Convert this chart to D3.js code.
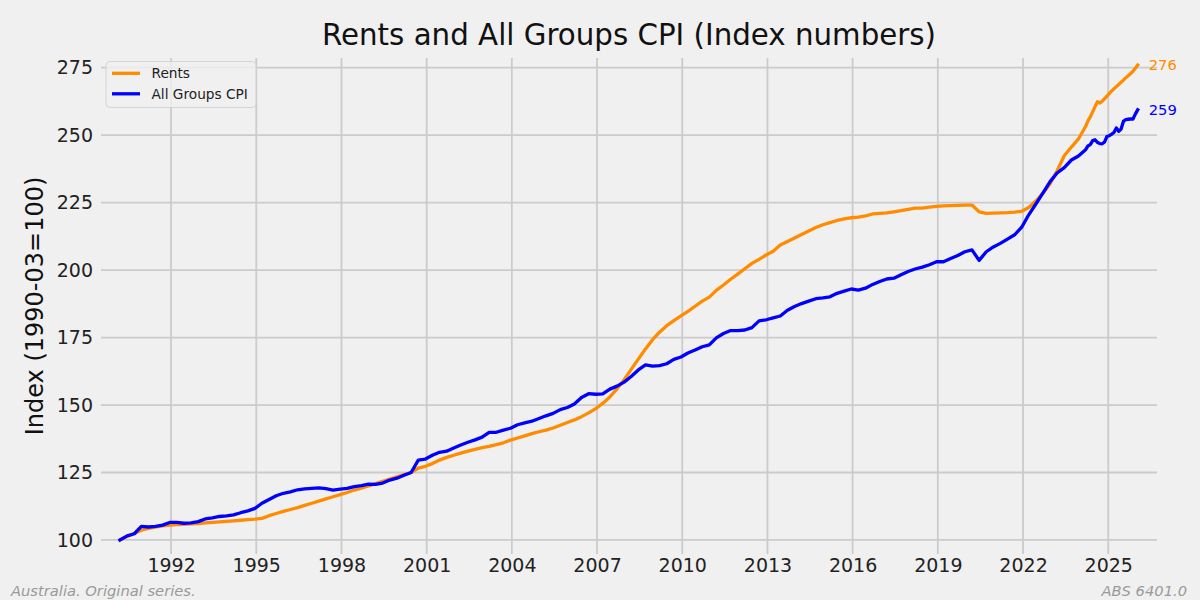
<!DOCTYPE html>
<html>
<head>
<meta charset="utf-8">
<script src="https://cdn.jsdelivr.net/npm/d3@7"></script>
<style>
  html, body { margin: 0; padding: 0; background: #f0f0f0; }
  svg { display: block; }
  text { font-family: "DejaVu Sans", sans-serif; }
</style>
</head>
<body>
<svg id="chart" width="1200" height="600"></svg>
<script>
// ---------------- DATA ----------------
// Quarterly observations: Mar 1990 .. Mar 2024 (137 quarters)
const quarterlyFirst = "1990-03";
const rentsQuarterly = [
  100.0, 101.3, 102.4, 103.6,
  104.3, 104.8, 105.2, 105.5,
  105.7, 105.8, 106.0, 106.1,
  106.3, 106.5, 106.7, 106.9,
  107.1, 107.3, 107.5, 107.7,
  108.0, 109.0, 109.8, 110.6,
  111.3, 112.0, 112.8, 113.6,
  114.4, 115.2, 116.0, 116.8,
  117.6, 118.5, 119.2, 120.0,
  120.9, 121.7, 122.6, 123.4,
  124.2, 125.0, 126.6, 127.3,
  128.3, 129.6, 130.6, 131.4,
  132.2, 132.9, 133.6, 134.2,
  134.7, 135.3, 136.0, 137.0,
  137.8, 138.6, 139.4, 140.1,
  140.7, 141.5, 142.5, 143.5,
  144.5, 145.7, 147.1, 148.7,
  150.6, 153.0, 156.0, 159.4,
  163.2, 167.0, 170.8, 174.2,
  177.0, 179.4, 181.3, 183.0,
  184.7, 186.6, 188.5, 190.0,
  192.5, 194.5, 196.6, 198.5,
  200.5, 202.5, 204.0, 205.6,
  207.0, 209.3, 210.6, 211.9,
  213.2, 214.5, 215.8, 216.8,
  217.6, 218.4, 219.0, 219.4,
  219.6, 220.1, 220.8, 221.0,
  221.2, 221.6, 222.0, 222.5,
  223.0, 223.0, 223.3, 223.6,
  223.8, 223.9, 224.0, 224.1,
  224.1, 221.6, 221.0, 221.1,
  221.2, 221.3, 221.5, 221.8,
  223.2, 225.6, 228.5, 232.0,
  236.8, 242.4, 245.6, 248.6,
  253.2
];
const cpiQuarterly = [
  100.0, 101.5, 102.3, 105.0,
  104.8, 105.0, 105.5, 106.5,
  106.5, 106.2, 106.3, 106.8,
  107.8, 108.2, 108.7, 108.9,
  109.3, 110.1, 110.8, 111.7,
  113.6, 115.0, 116.4, 117.3,
  117.8, 118.6, 118.9, 119.1,
  119.3, 119.0, 118.5, 118.8,
  119.1, 119.8, 120.1, 120.7,
  120.6, 121.1, 122.2, 122.9,
  124.0, 125.0, 129.6, 130.0,
  131.4, 132.5, 132.9, 134.1,
  135.2, 136.2, 137.1, 138.1,
  139.9, 139.9, 140.7, 141.4,
  142.7, 143.4, 144.0, 145.0,
  146.0, 146.9, 148.3, 149.1,
  150.4, 152.8, 154.2, 154.0,
  154.1, 155.9, 157.0, 158.5,
  160.6, 163.0, 164.9, 164.4,
  164.6, 165.3, 166.9, 167.8,
  169.3, 170.4, 171.6, 172.3,
  174.9, 176.5, 177.6, 177.6,
  177.8, 178.7, 181.2, 181.6,
  182.3, 183.0, 185.1, 186.5,
  187.6, 188.5, 189.4, 189.7,
  190.1, 191.4, 192.2, 193.0,
  192.6, 193.3, 194.7, 195.8,
  196.7, 197.0, 198.3, 199.5,
  200.4, 201.1, 202.0, 203.1,
  203.1, 204.3, 205.4, 206.8,
  207.5, 203.6, 206.8, 208.6,
  209.9, 211.5, 213.1, 215.9,
  220.5, 224.5, 228.6, 232.8,
  236.0, 238.0, 240.8, 242.3,
  244.6
];
// Monthly observations: Apr 2024 .. Jan 2026 (22 months)
const monthlyFirst = "2024-04";
const rentsMonthly = [
  255.3, 256.8, 258.7, 260.6, 262.4, 261.9, 262.6, 263.5, 264.5,
  265.5, 266.4, 267.2, 268.0, 268.8, 269.6, 270.4, 271.3, 272.0, 272.8, 273.7, 274.8,
  276.0
];
const cpiMonthly = [
  246.0, 246.5, 248.0, 248.3, 247.3, 246.9, 246.8, 247.5, 249.5,
  249.8, 250.4, 251.0, 252.7, 251.4, 252.3, 255.1, 255.8, 255.9, 256.0, 256.0, 257.8,
  259.4
];
const seriesNames = ["Rents", "All Groups CPI"];
const seriesColors = ["#ff8c00", "#0000ff"];
const yTicks = [100, 125, 150, 175, 200, 225, 250, 275];
const xTickYears = [1992, 1995, 1998, 2001, 2004, 2007, 2010, 2013, 2016, 2019, 2022, 2025];
const titleText = "Rents and All Groups CPI (Index numbers)";
const yLabelText = "Index (1990-03=100)";
const footLeft = "Australia. Original series.";
const footRight = "ABS 6401.0";

// ---------------- BUILD ----------------
function seq(first, step, n) {
  const [yy, m] = first.split("-").map(Number);
  return d3.range(n).map(i => new Date(yy, m - 1 + step * i, 15));
}
const qDates = seq(quarterlyFirst, 3, rentsQuarterly.length);
const mDates = seq(monthlyFirst, 1, rentsMonthly.length);
const allDates = qDates.concat(mDates);
const series = [
  { name: seriesNames[0], color: seriesColors[0], values: rentsQuarterly.concat(rentsMonthly) },
  { name: seriesNames[1], color: seriesColors[1], values: cpiQuarterly.concat(cpiMonthly) }
].map(s => ({ ...s, points: s.values.map((v, i) => ({ date: allDates[i], value: v })) }));

const svg = d3.select("#chart");
const W = 1200, H = 600;
svg.append("rect").attr("width", W).attr("height", H).attr("fill", "#f0f0f0");

const plot = { left: 101, right: 1157, top: 58, bottom: 554 };

const x = d3.scaleTime()
  .domain([new Date(1989, 6, 14), new Date(2026, 8, 20)])
  .range([plot.left, plot.right]);
const y = d3.scaleLinear()
  .domain([94.8, 278.6])
  .range([plot.bottom, plot.top]);

// grid
const g = svg.append("g");
g.selectAll(".hgrid").data(yTicks).enter().append("line")
  .attr("x1", plot.left).attr("x2", plot.right)
  .attr("y1", d => y(d)).attr("y2", d => y(d))
  .attr("stroke", "#cbcbcb").attr("stroke-width", 1.8);
g.selectAll(".vgrid").data(xTickYears).enter().append("line")
  .attr("y1", plot.top).attr("y2", plot.bottom)
  .attr("x1", d => x(new Date(d, 0, 1))).attr("x2", d => x(new Date(d, 0, 1)))
  .attr("stroke", "#cbcbcb").attr("stroke-width", 1.8);

// axes (text only)
const yAxis = d3.axisLeft(y).tickValues(yTicks).tickSize(0).tickPadding(8).tickFormat(d3.format("d"));
svg.append("g").attr("transform", `translate(${plot.left},0)`).call(yAxis)
  .call(a => a.select(".domain").remove())
  .selectAll("text").attr("font-size", 19).attr("fill", "#222")
  .attr("font-family", "DejaVu Sans");
const xAxis = d3.axisBottom(x).tickValues(xTickYears.map(yr => new Date(yr, 0, 1)))
  .tickSize(0).tickPadding(4).tickFormat(d3.timeFormat("%Y"));
svg.append("g").attr("transform", `translate(0,${plot.bottom})`).call(xAxis)
  .call(a => a.select(".domain").remove())
  .selectAll("text").attr("font-size", 19).attr("fill", "#222")
  .attr("font-family", "DejaVu Sans");

// lines
const line = d3.line().x(d => x(d.date)).y(d => y(d.value));
svg.selectAll(".series").data(series).enter().append("path")
  .attr("d", d => line(d.points))
  .attr("fill", "none").attr("stroke", d => d.color)
  .attr("stroke-width", 3.3).attr("stroke-linejoin", "round").attr("stroke-linecap", "square");

// end labels
series.forEach(s => {
  const last = s.points[s.points.length - 1];
  svg.append("text")
    .attr("x", x(last.date) + 11).attr("y", y(last.value))
    .attr("dy", "0.36em").attr("font-size", 14.8).attr("fill", s.color)
    .text(d3.format("d")(Math.floor(last.value)));
});

// legend
const lg = svg.append("g");
lg.append("rect").attr("x", 106).attr("y", 61.5).attr("width", 150).attr("height", 46)
  .attr("rx", 4).attr("fill", "#f0f0f0").attr("fill-opacity", 0.8)
  .attr("stroke", "#d4d4d4").attr("stroke-width", 1);
series.forEach((s, i) => {
  const yy = 73.3 + i * 20.5;
  lg.append("line").attr("x1", 112).attr("x2", 140).attr("y1", yy).attr("y2", yy)
    .attr("stroke", s.color).attr("stroke-width", 3.3);
  lg.append("text").attr("x", 151.5).attr("y", yy).attr("dy", "0.36em")
    .attr("font-size", 13.7).attr("fill", "#222").text(s.name);
});

// title
svg.append("text").attr("x", (plot.left + plot.right) / 2).attr("y", 45)
  .attr("text-anchor", "middle").attr("font-size", 29.3).attr("fill", "#111")
  .text(titleText);

// y label
svg.append("text")
  .attr("transform", `translate(43,${(y(94.8) + y(278.6)) / 2}) rotate(-90)`)
  .attr("text-anchor", "middle").attr("font-size", 24).attr("fill", "#111")
  .text(yLabelText);

// footnotes
svg.append("text").attr("x", 11).attr("y", 595.5).attr("font-size", 14.7)
  .attr("font-style", "italic").attr("fill", "#9a9a9a").text(footLeft);
svg.append("text").attr("x", 1187).attr("y", 595.5).attr("text-anchor", "end")
  .attr("font-size", 14.7).attr("font-style", "italic").attr("fill", "#9a9a9a").text(footRight);
</script>
</body>
</html>
